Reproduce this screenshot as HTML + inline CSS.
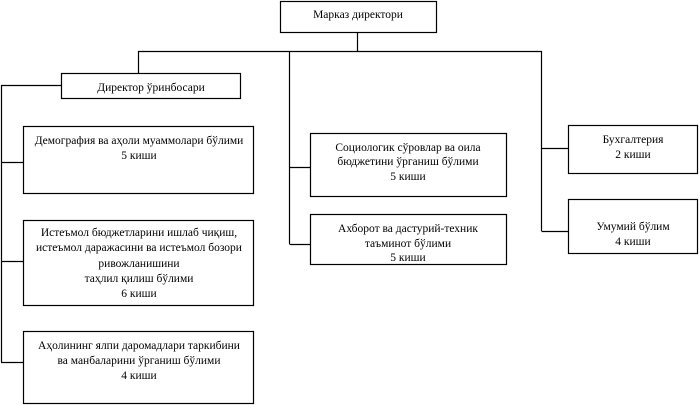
<!DOCTYPE html>
<html><head><meta charset="utf-8"><style>
html,body{margin:0;padding:0;background:#fff;}
svg{display:block;}
text{font-family:"Liberation Serif",serif;font-size:11.5px;fill:#000;}
</style></head><body>
<svg width="699" height="405" viewBox="0 0 699 405" xmlns="http://www.w3.org/2000/svg">
<g fill="none" stroke="#000" stroke-width="1.2">
<rect x="280.5" y="1.5" width="156" height="31"/>
<line x1="357.5" y1="32" x2="357.5" y2="52"/>
<line x1="138.5" y1="51.5" x2="541.5" y2="51.5"/>
<line x1="138.5" y1="51" x2="138.5" y2="73"/>
<rect x="61.5" y="73.5" width="179" height="25"/>
<line x1="1.5" y1="85.5" x2="61.5" y2="85.5"/>
<line x1="1.5" y1="85" x2="1.5" y2="362"/>
<rect x="23.5" y="126.5" width="230" height="67"/>
<line x1="1" y1="162.5" x2="23.5" y2="162.5"/>
<rect x="23.5" y="220.5" width="230" height="85"/>
<line x1="1" y1="261.5" x2="23.5" y2="261.5"/>
<rect x="23.5" y="331.5" width="230" height="72"/>
<line x1="1" y1="362.5" x2="23.5" y2="362.5"/>
<line x1="289.5" y1="51" x2="289.5" y2="244"/>
<rect x="310.5" y="133.5" width="196" height="63"/>
<line x1="289.5" y1="167.5" x2="310.5" y2="167.5"/>
<rect x="310.5" y="214.5" width="196" height="50"/>
<line x1="289.5" y1="244.5" x2="310.5" y2="244.5"/>
<line x1="541.5" y1="51" x2="541.5" y2="231"/>
<rect x="568.5" y="125.5" width="129" height="48"/>
<line x1="541.5" y1="148.5" x2="568.5" y2="148.5"/>
<rect x="568.5" y="199.5" width="129" height="54"/>
<line x1="541.5" y1="231.5" x2="568.5" y2="231.5"/>
</g>
<g text-anchor="middle" dominant-baseline="central">
<text x="358" y="15">Марказ директори</text>
<text x="151" y="88">Директор ўринбосари</text>
<text x="139" y="141">Демография ва аҳоли муаммолари бўлими</text>
<text x="139" y="156">5 киши</text>
<text x="139" y="233">Истеъмол бюджетларини ишлаб чиқиш,</text>
<text x="139" y="248">истеъмол даражасини ва истеъмол бозори</text>
<text x="139" y="264">ривожланишини</text>
<text x="139" y="279">таҳлил қилиш бўлими</text>
<text x="139" y="294">6 киши</text>
<text x="139" y="346">Аҳолининг ялпи даромадлари таркибини</text>
<text x="139" y="361">ва манбаларини  ўрганиш бўлими</text>
<text x="139" y="376">4 киши</text>
<text x="408" y="148">Социологик сўровлар ва оила</text>
<text x="408" y="162">бюджетини ўрганиш бўлими</text>
<text x="408" y="177">5 киши</text>
<text x="408" y="229">Ахборот ва дастурий-техник</text>
<text x="408" y="244">таъминот бўлими</text>
<text x="408" y="258">5 киши</text>
<text x="633" y="140">Бухгалтерия</text>
<text x="633" y="155">2 киши</text>
<text x="633" y="227">Умумий бўлим</text>
<text x="633" y="242">4 киши</text>
</g>
</svg>
</body></html>
